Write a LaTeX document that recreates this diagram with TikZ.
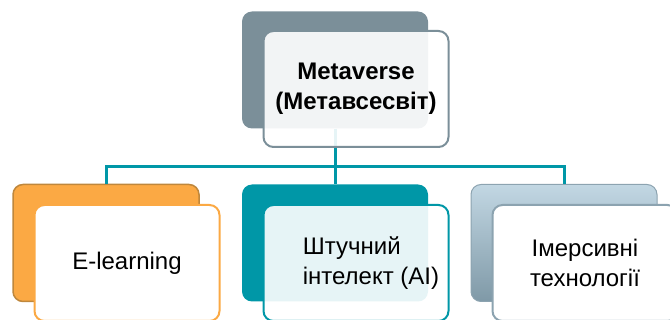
\documentclass[tikz,border=0pt]{standalone}
\usepackage{fontspec}
\setmainfont{Liberation Sans}

\definecolor{slate}{HTML}{7B8F99}
\definecolor{tealc}{HTML}{0097A7}
\definecolor{orangec}{HTML}{FBA944}
\definecolor{orangedark}{HTML}{BF873C}
\definecolor{bluetop}{HTML}{C2D7E3}
\definecolor{bluebot}{HTML}{7F99A7}
\definecolor{blueline}{HTML}{8CA3B0}

\tikzset{
  backbox/.style={rectangle, rounded corners=10pt, minimum width=186pt, minimum height=117pt, inner sep=0pt},
  frontbox/.style={rectangle, rounded corners=10pt, line width=2pt, minimum width=185pt, minimum height=116pt, inner sep=0pt, fill=white, font=\fontsize{24}{30}\selectfont, align=center},
  link/.style={draw=tealc, line width=3pt}
}

\begin{document}
\begin{tikzpicture}[x=1pt,y=-1pt]
  \useasboundingbox (0,0) rectangle (670,320);

  % the boxes at the back
  \node[backbox, fill=slate] (topback) at (335,70) {};
  \node[backbox, fill=orangec, draw=orangedark, line width=1.5pt] (learnback) at (106,243) {};
  \node[backbox, fill=tealc] (aiback) at (335,243) {};
  \node[backbox, top color=bluetop, bottom color=bluebot, draw=blueline, line width=1pt] (techback) at (564,243) {};

  % the connectors
  \coordinate (hub) at (335,167);
  \draw[link] (learnback.north) |- (hub) -| (techback.north);
  \draw[link] (topback.south) -- (aiback.north);

  % the boxes in front
  \node[frontbox, draw=slate, fill opacity=0.9, text opacity=1] (topfront) at (356,89) {\bfseries Metaverse\\\bfseries(Метавсесвіт)};
  \node[frontbox, draw=orangec] (learnfront) at (127,263) {E-learning};
  \node[frontbox, draw=tealc, fill opacity=0.9] (aifront) at (356,263) {};
  \node[font=\fontsize{24}{30}\selectfont, align=left, inner sep=0pt] (aitext) at (371,263) {Штучний\\інтелект (AI)};
  \node[frontbox, draw=blueline] (techfront) at (585,263) {Імерсивні\\технології};
\end{tikzpicture}
\end{document}
